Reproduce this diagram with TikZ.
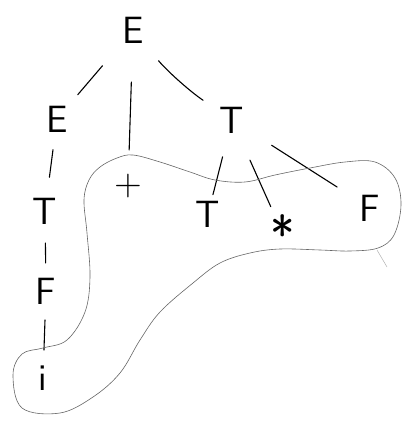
\documentclass[tikz,border=0pt]{standalone}
\begin{document}
\begin{tikzpicture}[x=1pt,y=-1pt,
  sym/.style={font=\sffamily\fontsize{38}{38}\selectfont, inner sep=0pt},
  edge/.style={line width=1.1pt, black, line cap=round},
  blob/.style={gray!80!black, line width=0.6pt}]
\useasboundingbox (0,0) rectangle (412,427);
\node[sym] (E0) at (133,30) {E};
\node[sym] (E1) at (57,119) {E};
\node[sym] (Tr) at (232,120) {T};
\node[sym] (Tl) at (45,211) {T};
\node[sym] (Fl) at (46,291) {F};
\node[sym] (I) at (43,378) {i};
\node[sym] (P) at (128,186) {+};
\node[sym] (Tm) at (208,214) {T};
\node[sym, font=\sffamily\fontsize{52}{52}\selectfont] (S) at (283,234) {*};
\node[sym] (Fr) at (370,208) {F};
\draw[edge, shorten <=47pt, shorten >=32pt] (E0.center) -- (E1.center);
\draw[edge, shorten <=52pt, shorten >=36pt] (E0.center) -- (P.center);
\draw[edge, shorten <=40pt, shorten >=35pt] (E0.center) to[bend right=8] (Tr.center);
\draw[edge, shorten <=31pt, shorten >=34pt] (E1.center) -- (Tl.center);
\draw[edge, shorten <=32pt, shorten >=28pt] (Tl.center) -- (Fl.center);
\draw[edge, shorten <=29pt, shorten >=28pt] (Fl.center) -- (I.center);
\draw[edge, shorten <=38pt, shorten >=20pt] (Tr.center) -- (Tm.center);
\draw[edge, shorten <=44pt, shorten >=30pt] (Tr.center) -- (S.center);
\draw[edge, shorten <=47pt, shorten >=39pt] (Tr.center) -- (Fr.center);
\draw[blob] plot[smooth cycle, tension=0.6] coordinates {
 (133,155) (160,162) (190,172) (215,180) (245,182) (275,175) (310,168)
 (345,162) (375,162) (395,178) (401,205) (394,235) (378,248) (350,251)
 (320,250) (280,249) (250,253) (220,263) (193,283) (160,312) (140,340)
 (120,373) (93,397) (60,413) (22,408) (13,375) (22,354) (43,348) (67,340)
 (85,312) (90,277) (87,233) (84,200) (89,180) (100,167) (117,158)};
\coordinate (tail0) at (377,250);
\coordinate (tail1) at (387,267);
\draw[gray!60, line width=0.5pt] (tail0) -- (tail1);
\end{tikzpicture}
\end{document}
